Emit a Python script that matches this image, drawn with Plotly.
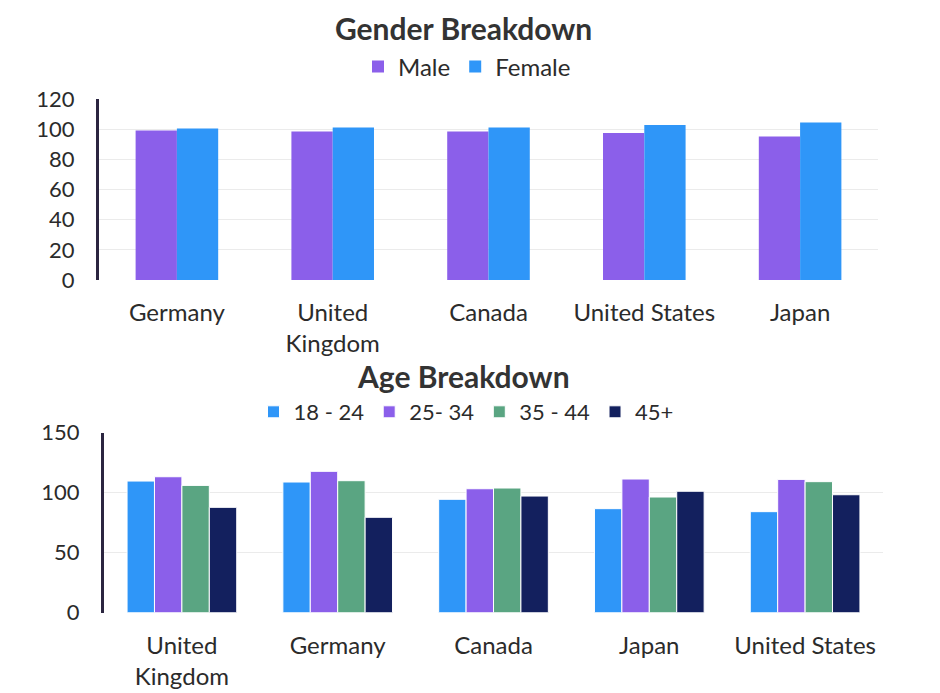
import plotly.graph_objects as go

# dados
paises_genero = ["Germany", "United Kingdom", "Canada", "United States", "Japan"]
rotulos_genero = ["Germany", "United<br>Kingdom", "Canada", "United States", "Japan"]
masculino = [99.1, 98.5, 98.5, 97.4, 95.2]
feminino = [100.5, 101.1, 101.1, 102.7, 104.5]

paises_idade = ["United Kingdom", "Germany", "Canada", "Japan", "United States"]
rotulos_idade = ["United<br>Kingdom", "Germany", "Canada", "Japan", "United States"]
faixas = ["18 - 24", "25- 34", "35 - 44", "45+"]
idade_18_24 = [109.7, 108.9, 94.5, 86.7, 84.2]
idade_25_34 = [113.3, 117.8, 103.3, 111.4, 111.1]
idade_35_44 = [106.1, 110.0, 103.9, 96.4, 109.2]
idade_45 = [87.8, 79.5, 97.2, 101.2, 98.3]

ROXO = "#8b5fea"
AZUL = "#2f96f8"
VERDE = "#5aa582"
MARINHO = "#13205e"
FONTE = "Lato"
TEXTO = "#2b2b2b"

W, H = 940, 693
DESLOC = 8  # margem padrao do body da pagina


def px_x(v):
    return (v - DESLOC) / W


def px_y(v):
    return 1 - (v - DESLOC) / H


fig = go.Figure()

larg_g = 0.265
for i, (nome, vals, cor) in enumerate([("Male", masculino, ROXO), ("Female", feminino, AZUL)]):
    fig.add_trace(go.Bar(x=paises_genero, y=vals, name=nome, marker_color=cor,
                         marker_line_width=0, width=larg_g, offset=-larg_g + i * larg_g,
                         xaxis="x", yaxis="y", legend="legend"))

larg_i = 0.176
for i, (nome, vals, cor) in enumerate(zip(faixas, [idade_18_24, idade_25_34, idade_35_44, idade_45],
                                          [AZUL, ROXO, VERDE, MARINHO])):
    fig.add_trace(go.Bar(x=paises_idade, y=vals, name=nome, marker_color=cor,
                         marker_line=dict(color="white", width=1),
                         width=larg_i, offset=-2 * larg_i + i * larg_i,
                         xaxis="x2", yaxis="y2", legend="legend2"))

eixo_y = dict(showline=True, linecolor="#2b2540", linewidth=3, gridcolor="#ebebeb",
              zeroline=False, tickfont=dict(size=22, color=TEXTO, family=FONTE),
              ticks="", ticklabelstandoff=17, fixedrange=True, automargin=False)
eixo_x = dict(showline=False, showgrid=False, ticks="", ticklabelstandoff=16,
              automargin=False, tickfont=dict(size=24, color=TEXTO, family=FONTE))

fonte_tit = dict(size=30, color="#333333", family=FONTE)

fig.update_layout(
    width=W, height=H,
    paper_bgcolor="white", plot_bgcolor="white",
    margin=dict(l=0, r=0, t=0, b=0, autoexpand=False),
    barmode="overlay",
    font=dict(family=FONTE, color=TEXTO),
    xaxis=dict(eixo_x, domain=[px_x(99), px_x(878)], anchor="y",
               tickmode="array", tickvals=paises_genero, ticktext=rotulos_genero),
    yaxis=dict(eixo_y, domain=[px_y(280), px_y(99)], anchor="x", range=[0, 120],
               dtick=20),
    xaxis2=dict(eixo_x, domain=[px_x(104), px_x(883)], anchor="y2",
                tickmode="array", tickvals=paises_idade, ticktext=rotulos_idade),
    yaxis2=dict(eixo_y, domain=[px_y(612.7), px_y(432.7)], anchor="x2", range=[0, 150],
                dtick=50),
    legend=dict(orientation="h", x=px_x(467), xanchor="center", y=px_y(67), yanchor="middle",
                font=dict(size=24, color=TEXTO, family=FONTE), itemwidth=30),
    legend2=dict(orientation="h", x=px_x(466), xanchor="center", y=px_y(412), yanchor="middle",
                 font=dict(size=22, color=TEXTO, family=FONTE), itemwidth=30),
    annotations=[
        dict(text="<b>Gender Breakdown</b>", x=px_x(463), y=1, xref="paper", yref="paper",
             showarrow=False, font=fonte_tit, yanchor="top"),
        dict(text="<b>Age Breakdown</b>", x=px_x(463), y=px_y(376), xref="paper", yref="paper",
             showarrow=False, font=fonte_tit, yanchor="middle"),
    ],
)

fig.write_html("out.html")
